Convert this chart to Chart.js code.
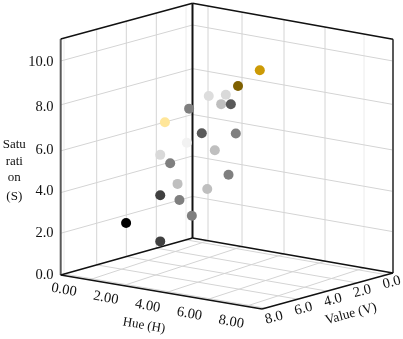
<!DOCTYPE html>
<html><head><meta charset="utf-8">
<style>html,body{margin:0;padding:0;background:#fff}canvas{display:block}</style>
<script src="https://cdn.jsdelivr.net/npm/chart.js@4"></script>
</head><body><canvas id="c" width="403" height="339"></canvas>
<script>
const hue = [4.58,3.53,2.85,2.95,3.44,3.90,3.33,2.18,3.23,4.14,3.22,3.85,2.66,2.43,3.79,3.49,2.78,2.66,2.87,3.46,1.77,2.66];
const sat = [9.22,8.32,7.94,7.83,7.68,7.75,7.82,7.04,6.55,6.51,6.31,5.90,5.86,5.22,4.51,3.97,4.29,3.92,3.52,2.85,2.62,1.65];
const val = [2,2,3,2,3,3,5,5,4,3,5,4,6,5,3,4,5,6,5,5,7,6];
const pointColors = ['#cc9a06','#7f6000','#dddddd','#d9d9d9','#bfbfbf','#595959','#7f7f7f','#ffe699','#595959','#7f7f7f','#f2f2f2','#bfbfbf','#d9d9d9','#7f7f7f','#7f7f7f','#bfbfbf','#bfbfbf','#404040','#7f7f7f','#7f7f7f','#000000','#404040'];
const hueTicks = [0,2,4,6,8];
const valTicks = [0,2,4,6,8];
const satTicks = [0,2,4,6,8,10];
const satTop = 11;

// axis calibration: projected position along each edge for the tick values
const hueStops = [208,242,284,325,364].map(x=>(x-192.5)/200.5);
const valStops = [6.5,36.2,66.2,95.8,128.5].map(d=>d/131.8);
const satStops = [0,1.95,3.85,5.8,7.95,10];
const satLabelRise = [0,42,84,125,168,213];
function interp(stops,t){
  const i = Math.max(0,Math.min(stops.length-2,Math.floor(t/2)));
  return stops[i]+(stops[i+1]-stops[i])*(t/2-i);
}
function projUV(u,v,e){
  const x = 192.5+200.5*u-131.8*v+0.8*u*v;
  const y = 238+35*u+37*v-u*v-(21.3-0.1*u+0.1*v)*e;
  return {x,y};
}
function project(h,s,w){ return projUV(interp(hueStops,h),interp(valStops,w),interp(satStops,s)); }

const points = hue.map((h,i)=>project(h,sat[i],val[i]));

const box3d = {
  id:'box3d',
  beforeDatasetsDraw(chart){
    const c = chart.ctx, X = chart.scales.x, Y = chart.scales.y;
    const seg=(a,b,col,w)=>{
      c.beginPath();
      c.moveTo(X.getPixelForValue(a.x),Y.getPixelForValue(a.y));
      c.lineTo(X.getPixelForValue(b.x),Y.getPixelForValue(b.y));
      c.strokeStyle=col;c.lineWidth=w;c.stroke();
    };
    c.save();
    const G='#d4d4d4', L='#ececec';
    const top=interp(satStops,satTop);
    hueTicks.forEach(t=>{
      const u=interp(hueStops,t), col=t===8?L:G;
      seg(projUV(u,0,0),projUV(u,0,top),col,1);
      seg(projUV(u,0,0),projUV(u+0.065,1,0),G,1);
    });
    valTicks.forEach(t=>{
      const v=interp(valStops,t), col=(t===0||t===8)?L:G;
      seg(projUV(0,v,0),projUV(0,v,top),col,1);
      seg(projUV(0,v,0),projUV(1,v,0),G,1);
    });
    satTicks.slice(1).forEach(s=>{
      const e=interp(satStops,s);
      seg(projUV(0,1,e),projUV(0,0,e),G,1);
      seg(projUV(0,0,e),projUV(1,0,e),G,1);
    });
    // box edges
    seg(projUV(0,1,0),projUV(0,1,top),'#595959',2);
    seg(projUV(1,0,0),projUV(1,0,top),'#595959',2);
    seg(projUV(0,0,0),projUV(0,0,top),'#111111',2);
    seg(projUV(0,1,top),projUV(0,0,top),'#111111',1.5);
    seg(projUV(0,0,top),projUV(1,0,top),'#111111',1.5);
    seg(projUV(0,1,0),projUV(0,0,0),'#111111',1.5);
    seg(projUV(0,0,0),projUV(1,0,0),'#111111',1.5);
    seg(projUV(0,1,0),projUV(1,1,0),'#111111',1.5);
    seg(projUV(1,1,0),projUV(1,0,0),'#111111',1.5);
    // labels
    const F='"Liberation Serif","Times New Roman",serif';
    const txt=(s,x,y,rot,size,al)=>{
      c.save();c.translate(x,y);c.rotate(rot*Math.PI/180);
      c.font=size+'px '+F;c.fillStyle='#111111';c.textAlign=al||'center';c.textBaseline='middle';
      c.fillText(s,0,0);c.restore();
    };
    satTicks.forEach((s,i)=>txt(s.toFixed(1),53.5,275-satLabelRise[i],0,14.5,'right'));
    hueTicks.forEach(t=>txt(t.toFixed(2),64+20.9*t,290+4*t,10,14.5));
    valTicks.forEach(t=>txt(t.toFixed(1),391.7-14.7*t,282.5+4.4*t,-15,14.5));
    txt('Hue (H)',144,325.5,10,13);
    txt('Value (V)',351,314,-15,13.5);
    ['Satu','rati','on','(S)'].forEach((s,i)=>txt(s,14.3,[145,162,178,197][i],0,13));
    c.restore();
  }
};

new Chart(document.getElementById('c'),{
  type:'scatter',
  data:{datasets:[{data:points,backgroundColor:pointColors,borderWidth:0,pointRadius:5,clip:false}]},
  options:{
    responsive:false,animation:false,
    layout:{padding:0,autoPadding:false},
    plugins:{legend:{display:false},tooltip:{enabled:false}},
    scales:{
      x:{type:'linear',min:0,max:403,display:false},
      y:{type:'linear',min:0,max:339,reverse:true,display:false}
    }
  },
  plugins:[box3d]
});
</script></body></html>
